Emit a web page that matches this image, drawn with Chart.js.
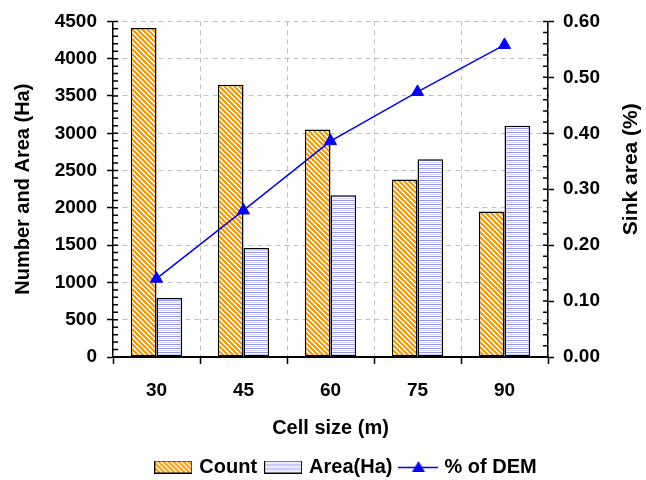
<!DOCTYPE html>
<html lang="en">
<head>
<meta charset="UTF-8">
<title>Sinks by cell size</title>
<script src="https://cdn.jsdelivr.net/npm/chart.js"></script>
<style>
  body { margin: 0; background: #fff; }
</style>
</head>
<body>
<canvas id="grafico" width="646" height="480"></canvas>
<script>
// data
const cellSizes = ['30', '45', '60', '75', '90'];
const sinkCount = [4410, 3650, 3050, 2380, 1950];
const sinkAreaHa = [790, 1460, 2170, 2650, 3100];
const pctOfDem = [0.14, 0.262, 0.386, 0.474, 0.558];

// axis ranges (min, max, major step, minor step)
const leftRange = [0, 4500, 500, 100];
const rightRange = [0, 0.6, 0.1, 0.02];

Chart.defaults.font.family = "'Liberation Sans', Arial, sans-serif";
Chart.defaults.color = '#000';

const canvas = document.getElementById('grafico');
const ctx0 = canvas.getContext('2d');

function makeTile(w, h, pix) {
  const c = document.createElement('canvas');
  c.width = w; c.height = h;
  const g = c.getContext('2d');
  const img = g.createImageData(w, h);
  for (let y = 0; y < h; y++) {
    for (let x = 0; x < w; x++) {
      const col = pix(x, y);
      const i = (y * w + x) * 4;
      img.data[i] = col[0]; img.data[i + 1] = col[1]; img.data[i + 2] = col[2]; img.data[i + 3] = 255;
    }
  }
  g.putImageData(img, 0, 0);
  return c;
}

// orange with white "\" stripes
const hatchTile = makeTile(5, 5, (x, y) => ((x - y + 10) % 5) < 2 ? [255, 255, 255] : [255, 153, 0]);
// white with lavender horizontal lines
const lineTile = makeTile(1, 4, (x, y) => y === 0 ? [150, 150, 255] : (y === 2 ? [215, 215, 255] : [255, 255, 255]));

const hatch = ctx0.createPattern(hatchTile, 'repeat');
const stripes = ctx0.createPattern(lineTile, 'repeat');

function boxIcon(tile) {
  const c = document.createElement('canvas');
  c.width = 38; c.height = 13;
  const g = c.getContext('2d');
  g.fillStyle = g.createPattern(tile, 'repeat');
  g.fillRect(0, 0, 38, 13);
  g.strokeStyle = '#000';
  g.lineWidth = 1;
  g.strokeRect(0.5, 0.5, 37, 12);
  return c;
}

function lineIcon() {
  const c = document.createElement('canvas');
  c.width = 40; c.height = 14;
  const g = c.getContext('2d');
  g.strokeStyle = '#0000ff';
  g.lineWidth = 1.5;
  g.beginPath(); g.moveTo(0, 7.5); g.lineTo(40, 7.5); g.stroke();
  g.fillStyle = '#0000ff';
  g.beginPath(); g.moveTo(20, 1); g.lineTo(26.5, 12); g.lineTo(13.5, 12); g.closePath(); g.fill();
  return c;
}

const legendIcons = [boxIcon(hatchTile), boxIcon(lineTile), lineIcon()];

function isStep(v, step) {
  return Math.abs(v / step - Math.round(v / step)) < 1e-6;
}

// minor ticks on the inside of both value axes
const minorTicks = {
  id: 'minorTicks',
  afterDraw(chart) {
    const ctx = chart.ctx, area = chart.chartArea;
    ctx.save();
    ctx.strokeStyle = '#000';
    ctx.lineWidth = 1.5;
    ctx.beginPath();
    chart.scales.y.ticks.forEach(t => {
      const py = chart.scales.y.getPixelForValue(t.value);
      ctx.moveTo(area.left, py); ctx.lineTo(area.left + 5, py);
    });
    chart.scales.y2.ticks.forEach(t => {
      const py = chart.scales.y2.getPixelForValue(t.value);
      ctx.moveTo(area.right - 5, py); ctx.lineTo(area.right, py);
    });
    ctx.stroke();
    ctx.restore();
  }
};

// right axis title reads bottom to top like the left one
const rightTitle = {
  id: 'rightTitle',
  afterDraw(chart) {
    const s = chart.scales.y2;
    const ctx = chart.ctx;
    ctx.save();
    ctx.translate(s.right - 15, (s.top + s.bottom) / 2 - 20);
    ctx.rotate(-Math.PI / 2);
    ctx.font = "bold 21px 'Liberation Sans', Arial, sans-serif";
    ctx.fillStyle = '#000';
    ctx.textAlign = 'center';
    ctx.textBaseline = 'middle';
    ctx.fillText('Sink area (%)', 0, 0);
    ctx.restore();
  }
};

const tickFont = { size: 19, weight: 'bold' };
const titleFont = { size: 20, weight: 'bold' };
const gridGray = '#c0c0c0';

new Chart(canvas, {
  type: 'bar',
  data: {
    labels: cellSizes,
    datasets: [
      {
        label: 'Count',
        data: sinkCount,
        backgroundColor: hatch,
        borderColor: '#000',
        borderWidth: 1.5,
        borderSkipped: false,
        barPercentage: 1,
        categoryPercentage: 0.59,
        yAxisID: 'y'
      },
      {
        label: 'Area(Ha)',
        data: sinkAreaHa,
        backgroundColor: stripes,
        borderColor: '#000',
        borderWidth: 1.5,
        borderSkipped: false,
        barPercentage: 1,
        categoryPercentage: 0.59,
        yAxisID: 'y'
      },
      {
        type: 'line',
        label: '% of DEM',
        data: pctOfDem,
        yAxisID: 'y2',
        order: -1,
        borderColor: '#0000ff',
        borderWidth: 1.5,
        backgroundColor: '#0000ff',
        pointStyle: 'triangle',
        pointRadius: 7,
        pointBackgroundColor: '#0000ff',
        pointBorderColor: '#0000ff',
        pointBorderWidth: 1,
        tension: 0
      }
    ]
  },
  options: {
    responsive: false,
    animation: false,
    layout: { padding: { left: 48, top: 19, right: 0, bottom: 0 } },
    plugins: {
      tooltip: { enabled: false },
      legend: {
        position: 'bottom',
        maxHeight: 33,
        labels: {
          usePointStyle: true,
          pointStyleWidth: 32,
          boxHeight: 13,
          padding: 10,
          color: '#000',
          font: { size: 20, weight: 'bold' },
          generateLabels: chart => chart.data.datasets.map((ds, i) => ({
            text: ds.label,
            pointStyle: legendIcons[i],
            datasetIndex: i,
            hidden: false,
            lineWidth: 0,
            fillStyle: 'transparent',
            strokeStyle: 'transparent'
          }))
        }
      }
    },
    scales: {
      x: {
        offset: true,
        grid: {
          offset: true,
          color: c => (c.index === 0 || c.index === cellSizes.length) ? 'transparent' : gridGray,
          lineWidth: 1,
          tickColor: '#000',
          tickLength: 7,
          tickWidth: 1.5
        },
        border: { color: '#000', width: 2, dash: [5, 4] },
        ticks: { font: tickFont, padding: 15 },
        title: { display: true, text: 'Cell size (m)', font: titleFont, padding: { top: 0, bottom: 7 } },
        afterFit: s => { s.height = 90; }
      },
      y: {
        position: 'left',
        min: leftRange[0],
        max: leftRange[1],
        grid: {
          color: c => (c.tick && c.tick.value > 0 && isStep(c.tick.value, leftRange[2])) ? gridGray : 'transparent',
          lineWidth: 1,
          tickColor: c => (c.tick && isStep(c.tick.value, leftRange[2])) ? '#000' : 'transparent',
          tickLength: 6,
          tickWidth: 1.5
        },
        border: { color: '#000', width: 1.5, dash: [5, 4] },
        ticks: {
          stepSize: leftRange[3],
          autoSkip: false,
          padding: 10,
          font: tickFont,
          callback: v => isStep(v, leftRange[2]) ? v : ''
        },
        title: { display: true, text: 'Number and Area (Ha)', font: titleFont, padding: { top: -37, bottom: 0 } },
        afterFit: s => { s.width = 65; }
      },
      y2: {
        position: 'right',
        min: rightRange[0],
        max: rightRange[1],
        grid: {
          drawOnChartArea: false,
          tickColor: c => (c.tick && isStep(c.tick.value, rightRange[2])) ? '#000' : 'transparent',
          tickLength: 6,
          tickWidth: 1.5
        },
        border: { color: '#000', width: 1.5 },
        ticks: {
          stepSize: rightRange[3],
          autoSkip: false,
          padding: 9,
          font: tickFont,
          callback: v => isStep(v, rightRange[2]) ? v.toFixed(2) : ''
        },
        afterFit: s => { s.width = 98; }
      }
    }
  },
  plugins: [minorTicks, rightTitle]
});
</script>
</body>
</html>
